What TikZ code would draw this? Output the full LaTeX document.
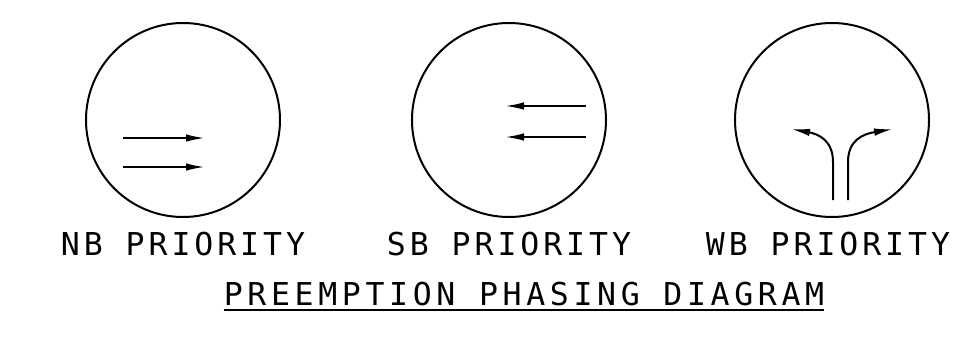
\documentclass[tikz,border=0pt]{standalone}
\usepackage{fontspec}
\newfontfamily\cadfont[LetterSpace=12.5]{DejaVu Sans Mono}
\newfontfamily\cadtitlefont[LetterSpace=14.8]{DejaVu Sans Mono}
\usetikzlibrary{arrows.meta}
\tikzset{
  ring/.style={circle, draw, line width=2pt, minimum size=194pt, inner sep=0pt},
  flow/.style={line width=2pt, -{Latex[length=19pt,width=7.5pt]}},
  label/.style={font=\cadfont\fontsize{31.5}{34}\selectfont, inner sep=0pt, anchor=base},
  titlelabel/.style={font=\cadtitlefont\fontsize{31.5}{34}\selectfont, inner sep=0pt, anchor=base},
}
\begin{document}
\begin{tikzpicture}[x=1pt,y=-1pt]
\useasboundingbox (0,0) rectangle (980,338);
% circles
\node[ring] (c1) at (183,120) {};
\node[ring] (c2) at (509,120) {};
\node[ring] (c3) at (832,120) {};
% NB arrows
\coordinate (n1s) at (123,138); \coordinate (n1e) at (205,138);
\coordinate (n2s) at (123,167); \coordinate (n2e) at (205,167);
\draw[flow] (n1s) -- (n1e);
\draw[flow] (n2s) -- (n2e);
% SB arrows
\coordinate (s1s) at (586,106); \coordinate (s1e) at (505,106);
\coordinate (s2s) at (586,137); \coordinate (s2e) at (505,137);
\draw[flow] (s1s) -- (s1e);
\draw[flow] (s2s) -- (s2e);
% WB arrows
\coordinate (w1s) at (833,200); \coordinate (w1e) at (791,129);
\coordinate (w2s) at (848,200); \coordinate (w2e) at (893,129);
\draw[flow] (w1s) -- (833,162) .. controls (833,140) and (818,134) .. (w1e);
\draw[flow] (w2s) -- (848,162) .. controls (848,140) and (863,134) .. (w2e);
% labels
\node[label] (l1) at (183,255) {NB PRIORITY};
\node[label] (l2) at (509,255) {SB PRIORITY};
\node[label] (l3) at (828,255) {WB PRIORITY};
\node[titlelabel] (title) at (524,305) {PREEMPTION PHASING DIAGRAM};
\draw[line width=2pt] ([yshift=-5pt]title.base west) -- ([yshift=-5pt]title.base east);
\end{tikzpicture}
\end{document}
